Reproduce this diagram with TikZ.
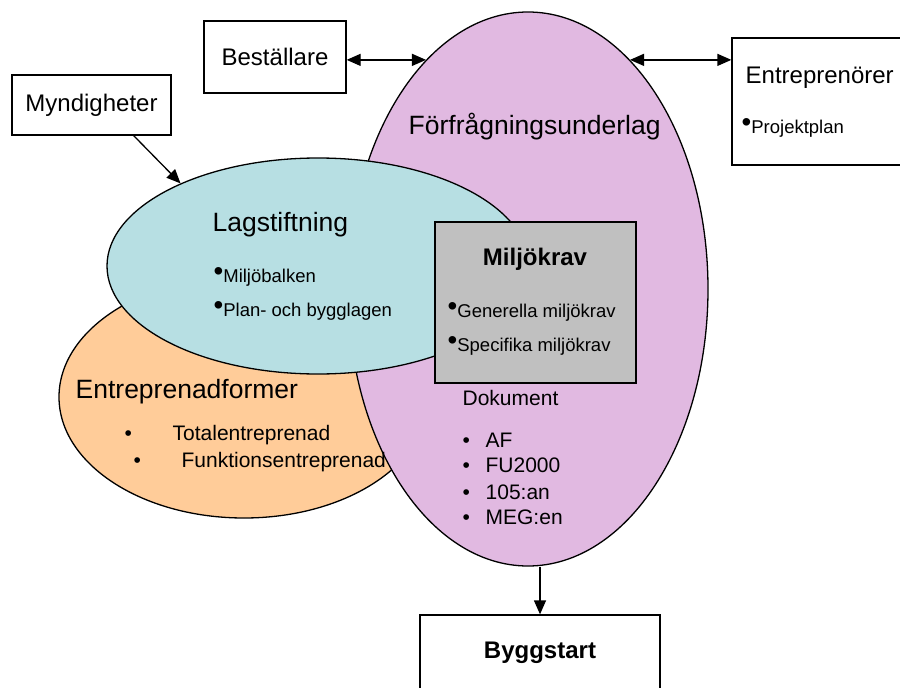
\documentclass[tikz,border=0pt]{standalone}
\usepackage{fontspec}
\setmainfont{Liberation Sans}
\usetikzlibrary{positioning,shapes.geometric,arrows.meta}
\definecolor{lagcyan}{HTML}{B7DFE3}
\definecolor{ffupink}{HTML}{E1B9E1}
\definecolor{entrtan}{HTML}{FFCC99}
\definecolor{kravgray}{HTML}{C0C0C0}
\newcommand{\hb}{\raisebox{0.1em}{\scalebox{1.5}{\textbullet}}}
\newcommand{\fs}[1]{\fontsize{#1}{#1}\selectfont}

\begin{document}
\begin{tikzpicture}[x=1pt,y=-1pt, line width=1.3pt, >={Triangle[length=14pt,width=12pt]},
  box/.style={draw, fill=white, inner sep=0pt},
  blob/.style={ellipse, draw, inner sep=0pt},
  big/.style={font=\fs{26.5}, inner sep=0pt, anchor=base west},
  mid/.style={font=\fs{24}, inner sep=0pt},
  lst/.style={font=\fs{21}, inner sep=0pt, anchor=base west},
  sml/.style={font=\fs{18.5}, inner sep=0pt, anchor=base west}]
\useasboundingbox (0,0) rectangle (900,688);
% ---- the three overlapping areas, back to front, and the Miljökrav box on top
\node[blob, fill=entrtan, minimum width=370, minimum height=242] (entf) at (244,397) {};
\node[blob, fill=ffupink, minimum width=360, minimum height=554] (ffu) at (528,289) {};
\node[blob, fill=lagcyan, minimum width=422, minimum height=216] (lag) at (318,266) {};
\node[box, fill=kravgray, minimum width=201, minimum height=161] (krav) at (535.5,302.5) {};
% ---- texts of the areas
\node[big] (ffuT) at (408,134) {Förfrågningsunderlag};
\node[big] (lagT) at (212,231) {Lagstiftning};
\node[sml] (lag1) at (213,282) {\hb Miljöbalken};
\node[sml] (lag2) at (213,316) {\hb Plan- och bygglagen};
\node[big] (entfT) at (75,398) {Entreprenadformer};
\node[lst] (entf1) at (124,440) {\makebox[48pt][l]{\textbullet}Totalentreprenad};
\node[lst] (entf2) at (133,467) {\makebox[48pt][l]{\textbullet}Funktionsentreprenad};
\node[mid, font=\fs{24}\bfseries, anchor=base] (kravT) at (535,265) {Miljökrav};
\node[sml] (krav1) at (447,317) {\hb Generella miljökrav};
\node[sml] (krav2) at (447,351) {\hb Specifika miljökrav};
\node[lst] (dokT) at (462,405) {Dokument};
\foreach \t/\y [count=\i] in {AF/447, FU2000/472, 105:an/499, MEG:en/524}
  \node[lst] (dok\i) at (462,\y) {\makebox[23pt][l]{\textbullet}\t};
% ---- the boxes round the areas
\node[box, mid, minimum width=142, minimum height=72] (best) at (275,57) {Beställare};
\node[box, mid, minimum width=159, minimum height=60] (myn) at (91.5,105) {Myndigheter};
\node[box, minimum width=178, minimum height=127] (entr) at (821,101.5) {};
\node[mid, anchor=base west] (entrT) at (745,83) {Entreprenörer};
\node[sml] (entr1) at (741,133) {\hb Projektplan};
\node[box, font=\fs{24}\bfseries, minimum width=240, minimum height=76] (bygg) at (540,653) {Byggstart};
% ---- connectors
\draw[<->] (ffu.114 -| best.east) -- (ffu.114);
\draw[<->] (ffu.66) -- (ffu.66 -| entr.west);
\draw[->] (myn.-36) -- (lag.149);
\draw[->] (bygg.north |- ffu.south) -- (bygg.north);
\end{tikzpicture}
\end{document}
